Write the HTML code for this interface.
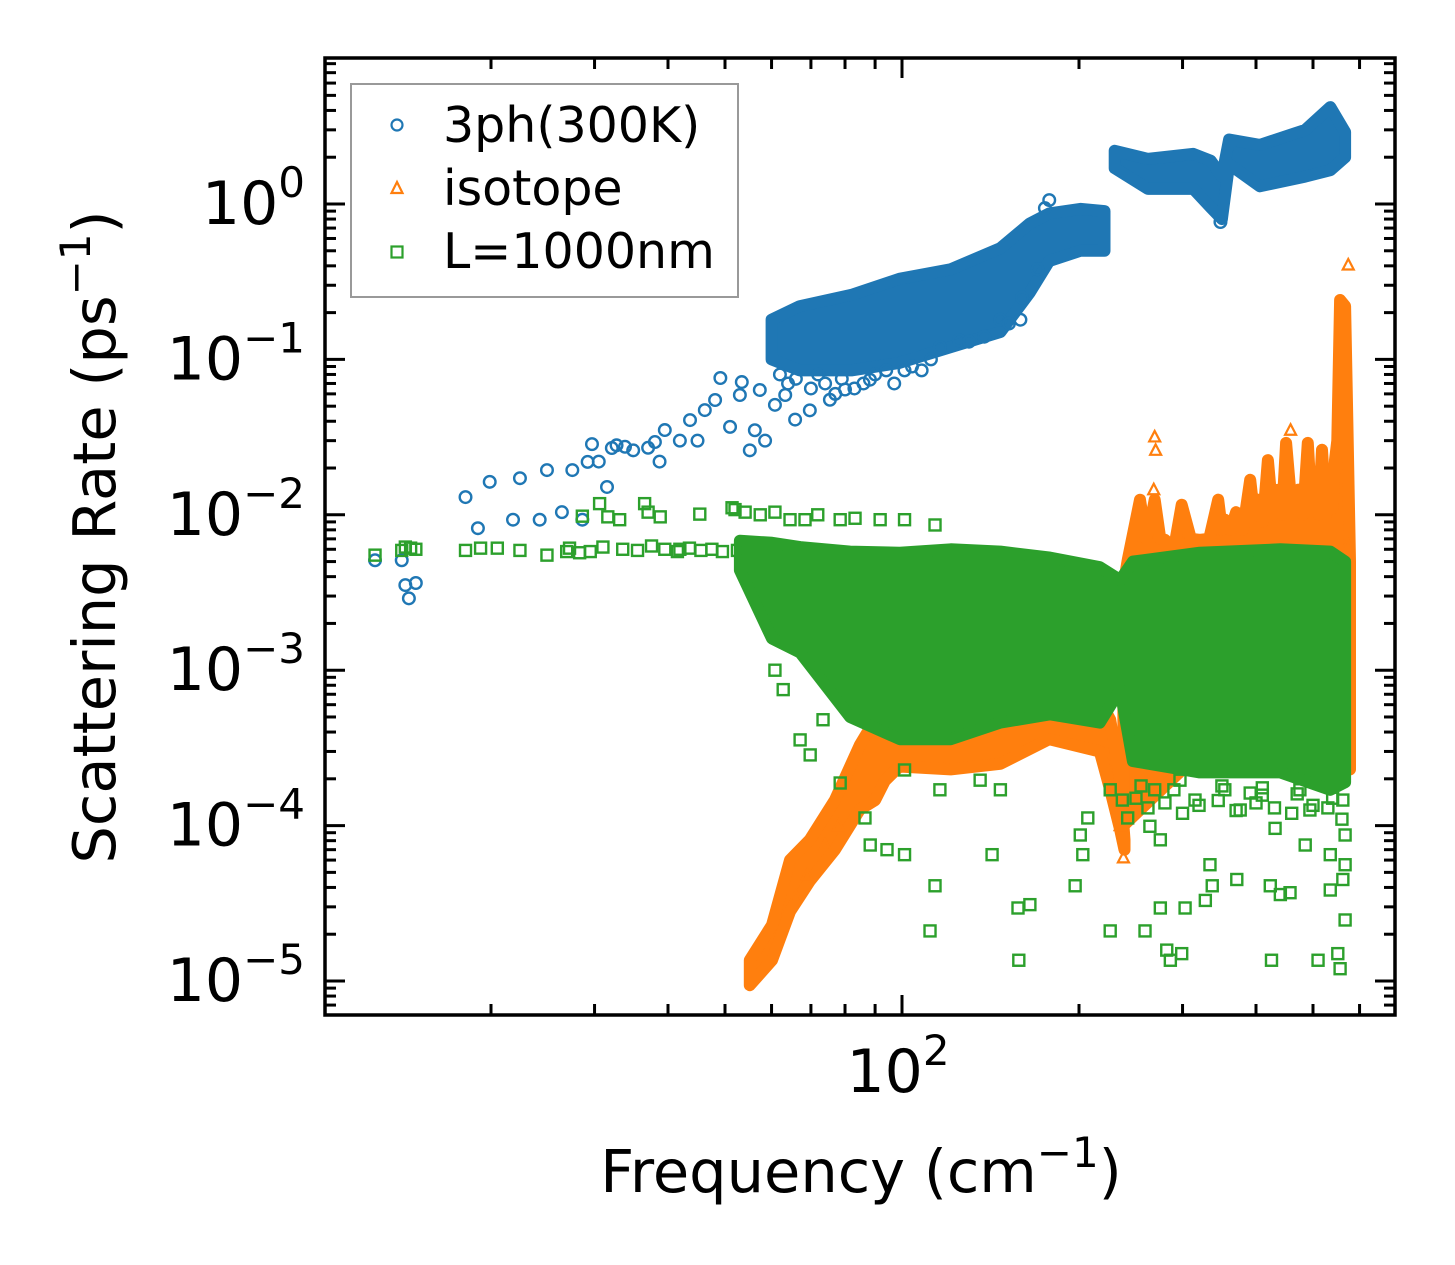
<!DOCTYPE html>
<html><head><meta charset="utf-8"><style>
html,body{margin:0;padding:0;background:#fff;}
svg{display:block;font-family:"DejaVu Sans","Liberation Sans",sans-serif;}
</style></head><body>
<svg id="chart" width="1455" height="1265" viewBox="0 0 1455 1265" xmlns="http://www.w3.org/2000/svg">
<rect x="0" y="0" width="1455" height="1265" fill="#fff"/>
<g id="plot"></g>
<g id="axes"></g>
</svg>
<script>
// ---- data ----
const blueLoF = [60, 67, 82, 99, 121, 147, 165, 178, 201, 221];
const blueLoTop = [0.18, 0.22, 0.26, 0.33, 0.38, 0.52, 0.75, 0.87, 0.93, 0.90];
const blueLoBot = [0.10, 0.085, 0.085, 0.095, 0.12, 0.15, 0.27, 0.43, 0.5, 0.5];
const blueHiF = [230, 262, 313, 335, 350, 360, 406, 485, 535, 567];
const blueHiTop = [2.2, 1.95, 2.1, 1.9, 1.5, 2.6, 2.4, 3.0, 4.2, 2.9];
const blueHiBot = [1.7, 1.25, 1.25, 0.95, 0.8, 1.8, 1.3, 1.5, 1.65, 2.0];
const blueF = [12.7,14.1,14.3,14.5,14.9,18.1,19.0,19.9,21.8,22.4,24.2,24.9,26.4,27.5,28.6,29.2,29.7,30.5,31.5,32.1,32.7,33.8,34.9,37.0,38.0,38.7,39.5,41.9,43.6,44.9,46.2,48.1,49.1,51.0,53.0,55.1,56.2,57.3,58.5,53.4,60.8,63.3,65.8,69.7,75.4,80.0,88.2,101,125,147,159,348,175,178,
  62,64,66,70,72,74,77,79,83,86,90,94,97,104,108,112,116,130,138,152,160,170];
const blueR = [0.0051,0.0051,0.00353,0.0029,0.00364,0.013,0.0082,0.0163,0.0093,0.0172,0.0093,0.0194,0.0104,0.0194,0.0093,0.0219,0.0285,0.022,0.0151,0.0269,0.028,0.0274,0.026,0.027,0.0294,0.022,0.0351,0.030,0.0407,0.030,0.0472,0.0548,0.0759,0.0368,0.059,0.026,0.035,0.0636,0.030,0.0715,0.051,0.059,0.041,0.047,0.055,0.064,0.074,0.085,0.133,0.18,0.18,0.766,0.94,1.06,
  0.08,0.07,0.075,0.065,0.08,0.07,0.06,0.075,0.065,0.07,0.08,0.085,0.07,0.09,0.085,0.1,0.12,0.13,0.14,0.17,0.25,0.38];
const orLoF = [55.1, 60.1, 64.5, 69.7, 76.9, 84.8, 90.0, 93.5, 99, 121, 147, 178, 217, 226, 235, 239];
const orLoTop = [1.36e-5, 2.29e-5, 6.0e-5, 8.1e-5, 1.46e-4, 3.3e-4, 4.8e-4, 6.0e-4, 6.4e-4, 6.4e-4, 6.4e-4, 6.4e-4, 6.4e-4, 4.8e-4, 1.96e-4, 8.1e-5];
const orLoBot = [0.94e-5, 1.36e-5, 2.8e-5, 4.4e-5, 7.0e-5, 1.27e-4, 1.46e-4, 1.94e-4, 2.4e-4, 2.3e-4, 2.5e-4, 3.6e-4, 3.0e-4, 1.7e-4, 9.4e-5, 7.0e-5];
const orHiF = [238,242,254,260,264,269,275,280,290,299,310,321,333,345,350,354,362,370,380,391,397,403,411,419,427,436,443,450,461,472,481,490,497,504,511,518,526,535,540,545,550,556,567,572,578];
const orHiTop = [0.0035,0.0051,0.0125,0.007,0.0086,0.0125,0.007,0.0069,0.006,0.0116,0.007,0.0069,0.007,0.0125,0.008,0.0093,0.008,0.0104,0.008,0.0168,0.01,0.0125,0.009,0.0225,0.01,0.0145,0.01,0.029,0.01,0.0145,0.01,0.029,0.011,0.0145,0.01,0.0262,0.01,0.0168,0.011,0.0225,0.03,0.241,0.22,0.041,0.005];
const orHiBotF = [238, 300, 400, 500, 578];
const orHiBotR = [1.0e-4, 2.3e-4, 2.3e-4, 2.3e-4, 2.3e-4];
const orF = [269, 270, 268, 458, 574, 573, 238, 235, 69, 66, 74, 78];
const orR = [0.0317, 0.026, 0.0145, 0.035, 0.405, 0.0064, 6.2e-5, 1.0e-4, 4.8e-5, 3.5e-5, 7.5e-5, 1.0e-4];
const grF = [53.0, 60.1, 67.1, 81.6, 99.2, 121, 147, 178.5, 217, 235, 247, 321, 440, 535, 567];
const grTop = [0.0068, 0.0066, 0.0062, 0.0058, 0.0057, 0.006, 0.0058, 0.0053, 0.0046, 0.0038, 0.005, 0.0057, 0.006, 0.0058, 0.005];
const grBot = [0.0044, 0.0016, 0.0013, 5.0e-4, 3.6e-4, 3.6e-4, 4.6e-4, 5.2e-4, 4.6e-4, 7.5e-4, 2.6e-4, 2.2e-4, 2.2e-4, 1.7e-4, 1.9e-4];
const greenF = [12.7,14.1,14.3,14.6,14.9,18.1,19.2,20.5,22.4,24.9,26.9,28.3,28.6,30.6,31.6,33.1,36.5,37.0,38.8,41.9,45.3,51.4,52.0,54.1,57.4,60.8,64.5,68.4,71.9,78.5,83.2,91.8,101,113.8,
  27.2,29.5,31.0,33.5,35.5,37.5,39.5,41.5,43.5,45.5,47.5,49.5,52.5,
  60.8,62.8,67.1,69.8,73.4,78.5,86.5,88.3,94.3,101,111.6,113.8,142.3,157.5,165,158,201,207,203,197,226,237,242,264,275,259,275,282,286,299,303,328,334,337,354,371,391,410,423,425,440,457,485,510,535,535,551,556,562,567,567,567,562,475,494,431,376,315,297,269,226,147,135.8,116,101,
  250,262,280,300,320,345,370,400,430,460,500,530,560,255,290,350,410,470,540];
const greenR = [0.0055,0.0059,0.0062,0.0061,0.0060,0.0059,0.0061,0.0061,0.0059,0.0055,0.0058,0.0057,0.0098,0.0118,0.0097,0.0093,0.0118,0.0104,0.0097,0.0060,0.0101,0.0111,0.0108,0.0104,0.0100,0.0104,0.0093,0.0093,0.0100,0.0093,0.0095,0.0093,0.0093,0.0086,
  0.0061,0.0058,0.0062,0.0060,0.0059,0.0063,0.0060,0.0058,0.0061,0.0059,0.0060,0.0058,0.0059,
  0.001,7.5e-4,3.56e-4,2.85e-4,4.8e-4,1.88e-4,1.12e-4,7.5e-5,7.0e-5,6.5e-5,2.1e-5,4.1e-5,6.5e-5,2.95e-5,3.1e-5,1.36e-5,8.7e-5,1.12e-4,6.5e-5,4.1e-5,2.1e-5,1.46e-4,1.12e-4,9.9e-5,8.1e-5,2.1e-5,2.95e-5,1.58e-5,1.36e-5,1.5e-5,2.95e-5,3.3e-5,5.6e-5,4.1e-5,1.7e-4,4.5e-5,1.62e-4,1.57e-4,4.1e-5,1.36e-5,3.6e-5,3.7e-5,7.5e-5,1.36e-5,6.5e-5,3.85e-5,1.5e-5,1.2e-5,4.5e-5,2.47e-5,5.6e-5,8.7e-5,1.46e-4,1.7e-4,1.26e-4,9.6e-5,1.26e-4,1.46e-4,1.96e-4,1.7e-4,1.7e-4,1.7e-4,1.96e-4,1.7e-4,2.28e-4,
  1.5e-4,1.3e-4,1.4e-4,1.2e-4,1.35e-4,1.45e-4,1.25e-4,1.4e-4,1.3e-4,1.2e-4,1.35e-4,1.3e-4,1.1e-4,1.8e-4,1.7e-4,1.8e-4,1.75e-4,1.6e-4,1.5e-4];
const yMajor = [1, 0.1, 0.01, 0.001, 0.0001, 0.00001];
const yMajorLabels = ["0", "−1", "−2", "−3", "−4", "−5"];
const xMajor = [100];
const xMajorLabels = ["2"];
const xMinor = [20,30,40,50,60,70,80,90,200,300,400,500,600];

const L = 325, R = 1395, T = 58, B = 1015;
function X(f) { return 902 + 588 * Math.log10(f / 100); }
function Y(r) { return 204 - 155.4 * Math.log10(r); }
const NS = "http://www.w3.org/2000/svg";
const plot = document.getElementById('plot');
const axes = document.getElementById('axes');
function mk(tag, attrs, parent) {
  const e = document.createElementNS(NS, tag);
  for (const k in attrs) e.setAttribute(k, attrs[k]);
  parent.appendChild(e);
  return e;
}
const BLUE = '#1f77b4', ORANGE = '#ff7f0e', GREEN = '#2ca02c';

function band(fs, tops, bots, color, name, botFs) {
  const pts = [];
  for (let i = 0; i < fs.length; i++) pts.push(X(fs[i]).toFixed(1) + ',' + Y(tops[i]).toFixed(1));
  const bf = botFs || fs;
  for (let i = bf.length - 1; i >= 0; i--) pts.push(X(bf[i]).toFixed(1) + ',' + Y(bots[i]).toFixed(1));
  const p = mk('polygon', {points: pts.join(' '), fill: color, stroke: color, 'stroke-width': 12, 'stroke-linejoin': 'round'}, plot);
  
  
}
function circles(fs, rs, name) {
  const g = mk('g', {}, plot);
  
  
  for (let i = 0; i < fs.length; i++) {
    const c = mk('circle', {cx: X(fs[i]), cy: Y(rs[i]), r: 5.8, fill: 'none', stroke: BLUE, 'stroke-width': 2.4}, g);
    
    
  }
}
function squares(fs, rs, name) {
  const g = mk('g', {}, plot);
  
  
  for (let i = 0; i < fs.length; i++) {
    const s = mk('rect', {x: X(fs[i]) - 5.5, y: Y(rs[i]) - 5.5, width: 11, height: 11, fill: 'none', stroke: GREEN, 'stroke-width': 2.4}, g);
    
    
  }
}
function triangles(fs, rs, name) {
  const g = mk('g', {}, plot);
  
  
  for (let i = 0; i < fs.length; i++) {
    const x = X(fs[i]), y = Y(rs[i]);
    const t = mk('polygon', {points: `${x},${y-6} ${x-5.5},${y+4.5} ${x+5.5},${y+4.5}`, fill: 'none', stroke: ORANGE, 'stroke-width': 2.2}, g);
    
    
  }
}

band(blueLoF, blueLoTop, blueLoBot, BLUE, 'series-3ph-band-low');
band(blueHiF, blueHiTop, blueHiBot, BLUE, 'series-3ph-band-high');
circles(blueF, blueR, 'series-3ph-points');
band(orLoF, orLoTop, orLoBot, ORANGE, 'series-isotope-band-low');
band(orHiF, orHiTop, orHiBotR, ORANGE, 'series-isotope-band-high', orHiBotF);
triangles(orF, orR, 'series-isotope-points');
band(grF, grTop, grBot, GREEN, 'series-boundary-band');
squares(greenF, greenR, 'series-boundary-points');

const frame = mk('rect', {x: L, y: T, width: R - L, height: B - T, fill: 'none', stroke: '#000', 'stroke-width': 3.5}, axes);


function tick(x1, y1, x2, y2, name) {
  const l = mk('line', {x1, y1, x2, y2, stroke: '#000', 'stroke-width': 3}, axes);
  
  
}
for (let i = 0; i < yMajor.length; i++) {
  const y = Y(yMajor[i]);
  tick(L, y, L + 20, y, 'y-major-tick');
  tick(R, y, R - 20, y, 'y-major-tick-right');
  const t = mk('text', {x: 305, y: y + 20, 'text-anchor': 'end', 'font-size': 60, fill: '#000'}, axes);
  
  
  const a = mk('tspan', {}, t); a.textContent = '10';
  const b = mk('tspan', {dy: -27, 'font-size': 42}, t); b.textContent = yMajorLabels[i];
}
for (let d = -6; d <= 0; d++) {
  for (let m = 2; m <= 9; m++) {
    const v = m * Math.pow(10, d);
    const y = Y(v);
    if (y < T + 2 || y > B - 2) continue;
    tick(L, y, L + 11, y, 'y-minor-tick');
    tick(R, y, R - 11, y, 'y-minor-tick-right');
  }
}
for (let i = 0; i < xMajor.length; i++) {
  const x = X(xMajor[i]);
  tick(x, B, x, B - 20, 'x-major-tick');
  tick(x, T, x, T + 20, 'x-major-tick-top');
  const t = mk('text', {x: x - 4, y: 1092, 'text-anchor': 'middle', 'font-size': 60, fill: '#000'}, axes);
  
  
  const a = mk('tspan', {}, t); a.textContent = '10';
  const b = mk('tspan', {dy: -27, 'font-size': 42}, t); b.textContent = xMajorLabels[i];
}
for (let i = 0; i < xMinor.length; i++) {
  const x = X(xMinor[i]);
  if (x < L + 2 || x > R - 2) continue;
  tick(x, B, x, B - 11, 'x-minor-tick');
  tick(x, T, x, T + 11, 'x-minor-tick-top');
}
</script>
<script>
(function(){
const NS = "http://www.w3.org/2000/svg";
const svg = document.getElementById('chart');
function mk(tag, attrs, parent) {
  const e = document.createElementNS(NS, tag);
  for (const k in attrs) e.setAttribute(k, attrs[k]);
  parent.appendChild(e);
  return e;
}
const xl = mk('text', {x: 861, y: 1192, 'text-anchor': 'middle', 'font-size': 59, fill: '#000'}, svg);


mk('tspan', {}, xl).textContent = 'Frequency (cm';
mk('tspan', {dy: -25, 'font-size': 42}, xl).textContent = '−1';
mk('tspan', {dy: 25}, xl).textContent = ')';
const yl = mk('text', {x: 0, y: 0, 'text-anchor': 'middle', 'font-size': 59, fill: '#000', transform: 'translate(115,537) rotate(-90)'}, svg);


mk('tspan', {}, yl).textContent = 'Scattering Rate (ps';
mk('tspan', {dy: -25, 'font-size': 42}, yl).textContent = '−1';
mk('tspan', {dy: 25}, yl).textContent = ')';

const lg = mk('g', {}, svg);


mk('rect', {x: 351, y: 84, width: 387, height: 213, fill: '#fff', 'fill-opacity': 0.8, stroke: '#999', 'stroke-width': 2}, lg);
const e1 = mk('g', {}, lg);


mk('circle', {cx: 397, cy: 125, r: 5.5, fill: 'none', stroke: '#1f77b4', 'stroke-width': 2.2}, e1);
mk('text', {x: 443, y: 142, 'font-size': 49, fill: '#000'}, e1).textContent = '3ph(300K)';
const e2 = mk('g', {}, lg);


mk('polygon', {points: '397,182 391.5,193 402.5,193', fill: 'none', stroke: '#ff7f0e', 'stroke-width': 2.2}, e2);
mk('text', {x: 443, y: 205, 'font-size': 49, fill: '#000'}, e2).textContent = 'isotope';
const e3 = mk('g', {}, lg);


mk('rect', {x: 391.5, y: 246.5, width: 11, height: 11, fill: 'none', stroke: '#2ca02c', 'stroke-width': 2.2}, e3);
mk('text', {x: 443, y: 268, 'font-size': 49, fill: '#000'}, e3).textContent = 'L=1000nm';
})();
</script>
</body></html>
